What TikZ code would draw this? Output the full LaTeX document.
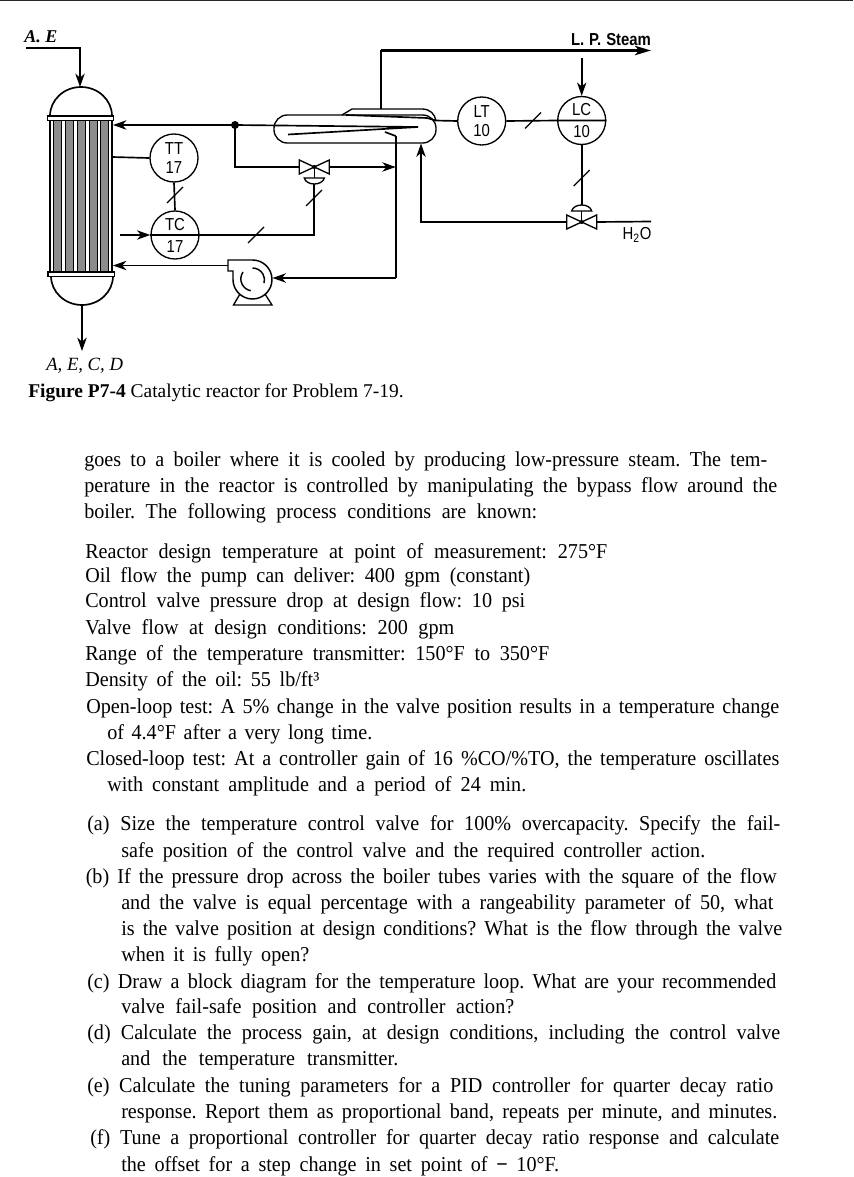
\documentclass[tikz,border=0pt]{standalone}
\usepackage{fontspec}
\setmainfont{Liberation Serif}
\newfontfamily\instfont[FakeStretch=0.86]{Liberation Sans}
\newfontfamily\bodyfont[FakeStretch=0.95]{Liberation Serif}
\usetikzlibrary{arrows.meta}
\newdimen\pxunit
\pxunit=0.75pt
\frenchspacing
\newcommand{\txtline}[5]{\node[txtline] (#1) at (#2,#3) {\makebox[#4\pxunit][s]{#5}};}
\tikzset{
    line/.style={line width=1.25pt},
    flow/.style={line width=1.25pt, -{Stealth[length=10pt, width=7pt, inset=3pt]}},
    inst/.style={draw, line width=1pt, circle, fill=white, minimum size=36pt, inner sep=0pt, align=center, font=\instfont\fontsize{13}{14.5}\selectfont},
    txtline/.style={anchor=base west, inner sep=0pt, font=\bodyfont\fontsize{15.9}{18}\selectfont},
    tag/.style={inner sep=0pt, font=\instfont\fontsize{13}{14.5}\selectfont},
    valvepic/.pic={
        \draw[line width=1pt] (-15,-7) -- (15,7) -- (15,-7) -- (-15,7) -- cycle;
        \draw[line width=1pt] (0,0) -- (0,11);
        \fill (0,0) circle (2);
        \draw[line width=1pt, fill=white] (-10,11) .. controls (-8,19) and (8,19) .. (10,11) -- cycle;
        \coordinate (-in) at (-15,0);
        \coordinate (-out) at (15,0);
        \coordinate (-sig) at (0,17);
    },
    tickpic/.pic={
        \draw[line width=1pt] (-8,8) -- (8,-8);
    }
}
\begin{document}
\begin{tikzpicture}[x=0.75pt, y=-0.75pt]
    \useasboundingbox (0,0) rectangle (853,1177);
    \fill[black!85] (0,0) rectangle (853,1.5);

    \foreach \sx in {53.5,65.5,77.5,89.5,100.5}
        \draw[line width=0.8pt, fill=black!45] (\sx,120) rectangle (\sx+8,272);
    \draw[line width=1.25pt] (50,120) -- (50,272);
    \draw[line width=1.25pt] (112,120) -- (112,272);
    \draw[line] (50,116) arc[start angle=180, end angle=360, x radius=31, y radius=29];
    \draw[line] (51,276) arc[start angle=180, end angle=0, x radius=31, y radius=29];
    \draw[line width=1pt, fill=white] (47.5,116) rectangle (113.5,120.5);
    \draw[line width=1pt, fill=white] (48,272) rectangle (114.5,276.5);

    \coordinate (feed) at (26,48);
    \coordinate (rtop) at (80,87);
    \coordinate (rbot) at (82,306);
    \coordinate (prod) at (82,351);
    \coordinate (rin) at (113,125);
    \coordinate (rtap) at (112,157);
    \coordinate (rpin) at (113,265.5);
    \coordinate (jct) at (235,125);
    \coordinate (sp) at (120,235);
    \coordinate (riserin) at (395.7,167);
    \coordinate (risertop) at (395.7,136);
    \coordinate (riserbot) at (395.7,278);
    \coordinate (bend) at (385,132);
    \coordinate (tip) at (418,127);
    \coordinate (tubeend) at (288,134.5);
    \coordinate (steamtee) at (381.3,109);
    \coordinate (steamcnr) at (381.3,50.5);
    \coordinate (steamend) at (651,50.5);
    \coordinate (lcsp) at (581.7,58);
    \coordinate (cwin) at (421,143.5);
    \coordinate (water) at (651,221.5);
    \coordinate (pumpin) at (272.5,278);
    \coordinate (pumpout) at (228,265.5);

    \draw[line] (feed) -| (80,70);
    \draw[flow] (80,60) -- (rtop);
    \draw[flow] (rbot) -- (prod);

    \node[draw, line width=1pt, rounded corners=10pt, minimum width=121.5pt, minimum height=21pt, inner sep=0pt] (shell) at (355,129) {};
    \draw[line width=1pt] (342,115) -- (352,109) -- (422,109) .. controls (430,109) and (435,114) .. (436,121);
    \draw[line] (346,115) -- (427,118) -- (436,120.5);
    \draw[line] (jct) -- (tip) -- (tubeend);
    \draw[line] (bend) -- (395.7,136);
    \draw[line] (steamtee) -- (steamcnr);
    \draw[line width=2pt, -{Stealth[length=12pt, width=7pt, inset=3pt]}] (steamcnr) -- (steamend);

    \node[inst] (tt) at (174,158) {TT\\17};
    \node[inst] (tc) at (175,235) {TC\\[2pt]17};
    \node[inst] (lt) at (481.7,121) {LT\\10};
    \node[inst] (lc) at (581.7,120.5) {LC\\[2pt]10};

    \pic (tv) at (314.3,167) {valvepic};
    \pic[yscale=-1] (lv) at (581.7,222) {valvepic};

    \draw[flow] (jct) -- (rin);
    \fill (jct) circle (4);
    \draw[line] (jct) |- (tv-in);
    \draw[flow] (tv-out) -- (riserin);
    \draw[line] (risertop) -- (riserbot);
    \draw[flow] (riserbot) -- (pumpin);
    \draw[line] (rtap) -- (tt.west);
    \draw[line] (tt.south) -- (tc.north);
    \draw[flow] (sp) -- (tc.west);
    \draw[line] (tc.west) -- (tc.east) -| (tv-sig);
    \draw[line] (435.5,120.5) -- (lt.west);
    \draw[line] (lt.east) -- (lc.west) -- (lc.east);
    \draw[flow] (lcsp) -- (lc.north);
    \draw[line] (lc.south) -- (lv-sig);
    \draw[flow] (lv-in) -| (cwin);
    \draw[line] (lv-out) -- (water);

    \pic at (175,195) {tickpic};
    \pic at (256,235) {tickpic};
    \pic at (314,198) {tickpic};
    \pic at (533,120.5) {tickpic};
    \pic at (581.7,178) {tickpic};

    \draw[line width=1pt] (233.5,305) -- (272,305) -- (265,294) -- (240,294) -- cycle;
    \draw[line width=1.1pt, fill=white] (pumpout) ++(0,-5.5) -- (252.5,260) arc[start angle=-90, end angle=180, radius=19.5] -- (233,271) -- (228,271) -- cycle;
    \draw[line width=1.1pt] (252.5,268) arc[start angle=-90, end angle=15, radius=12];
    \draw[line width=1.1pt] (243,272) arc[start angle=-145, end angle=-260, radius=12];
    \draw[flow] (pumpout) -- (rpin);

    \node[anchor=base west, inner sep=0pt, font=\bfseries\itshape\fontsize{13.5}{16}\selectfont] (feedlabel) at (24,43) {A. E};
    \node[anchor=base west, inner sep=0pt, font=\itshape\fontsize{14}{16}\selectfont] (prodlabel) at (46,370) {A, E, C, D};
    \node[tag, font=\instfont\bfseries\fontsize{13}{14.5}\selectfont] (steamlabel) at (611,39.5) {\makebox[80\pxunit][s]{L. P. Steam}};
    \node[tag] (waterlabel) at (637,235) {H\textsubscript{2}O};
    \node[anchor=base west, inner sep=0pt, font=\fontsize{14.6}{17}\selectfont] (caption) at (28,397) {\textbf{Figure P7-4} Catalytic reactor for Problem 7-19.};

    \txtline{t1}{84}{466}{683}{goes to a boiler where it is cooled by producing low-pressure steam. The tem-}
    \txtline{t2}{84}{492}{693}{perature in the reactor is controlled by manipulating the bypass flow around the}
    \txtline{t3}{84}{518}{453}{boiler. The following process conditions are known:}
    \txtline{t4}{85}{558}{522}{Reactor design temperature at point of measurement: 275°F}
    \txtline{t5}{85}{582}{445}{Oil flow the pump can deliver: 400 gpm (constant)}
    \txtline{t6}{85}{607}{440}{Control valve pressure drop at design flow: 10 psi}
    \txtline{t7}{85}{634}{369}{Valve flow at design conditions: 200 gpm}
    \txtline{t8}{85}{660}{464}{Range of the temperature transmitter: 150°F to 350°F}
    \txtline{t9}{85}{686}{234}{Density of the oil: 55 lb/ft³}
    \txtline{t10}{86}{713}{693}{Open-loop test: A 5\% change in the valve position results in a temperature change}
    \txtline{t11}{107}{739}{265}{of 4.4°F after a very long time.}
    \txtline{t12}{86}{765}{693}{Closed-loop test: At a controller gain of 16 \%CO/\%TO, the temperature oscillates}
    \txtline{t13}{107}{791}{419}{with constant amplitude and a period of 24 min.}
    \txtline{t14}{87}{830}{693}{(a) Size the temperature control valve for 100\% overcapacity. Specify the fail-}
    \txtline{t15}{121}{857}{584}{safe position of the control valve and the required controller action.}
    \txtline{t16}{85.5}{883}{691}{(b) If the pressure drop across the boiler tubes varies with the square of the flow}
    \txtline{t17}{121}{909}{652}{and the valve is equal percentage with a rangeability parameter of 50, what}
    \txtline{t18}{121}{935}{661}{is the valve position at design conditions? What is the flow through the valve}
    \txtline{t19}{121}{961}{188}{when it is fully open?}
    \txtline{t20}{87}{988}{689}{(c) Draw a block diagram for the temperature loop. What are your recommended}
    \txtline{t21}{121}{1013}{393}{valve fail-safe position and controller action?}
    \txtline{t22}{87}{1039}{693}{(d) Calculate the process gain, at design conditions, including the control valve}
    \txtline{t23}{121}{1065}{277}{and the temperature transmitter.}
    \txtline{t24}{87}{1092}{686}{(e) Calculate the tuning parameters for a PID controller for quarter decay ratio}
    \txtline{t25}{121}{1118}{656}{response. Report them as proportional band, repeats per minute, and minutes.}
    \txtline{t26}{90}{1144}{689}{(f) Tune a proportional controller for quarter decay ratio response and calculate}
    \txtline{t27}{121}{1171}{438}{the offset for a step change in set point of \textbf{−} 10°F.}
\end{tikzpicture}
\end{document}
